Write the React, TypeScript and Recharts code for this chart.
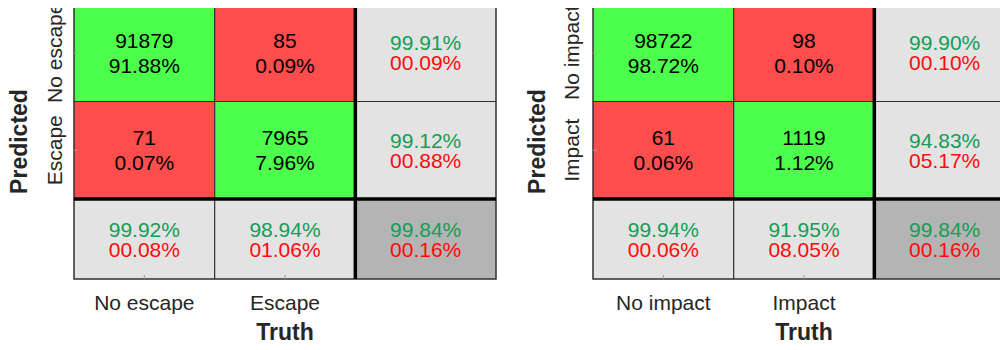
import React from 'react';
import { ScatterChart, Scatter, XAxis, YAxis, ReferenceArea, ReferenceLine, Label } from 'recharts';

const FONT = '"Liberation Sans", Arial, Helvetica, sans-serif';

// escape classifier
const escapeLabels = ['No escape', 'Escape'];
const escapeCounts = [[91879, 85], [71, 7965]];
const escapeShares = [['91.88%', '0.09%'], ['0.07%', '7.96%']];
const escapeRowRates = [['99.91%', '00.09%'], ['99.12%', '00.88%']];
const escapeColRates = [['99.92%', '00.08%'], ['98.94%', '01.06%']];
const escapeOverall = ['99.84%', '00.16%'];

// impact classifier
const impactLabels = ['No impact', 'Impact'];
const impactCounts = [[98722, 98], [61, 1119]];
const impactShares = [['98.72%', '0.10%'], ['0.06%', '1.12%']];
const impactRowRates = [['99.90%', '00.10%'], ['94.83%', '05.17%']];
const impactColRates = [['99.94%', '00.06%'], ['91.95%', '08.05%']];
const impactOverall = ['99.84%', '00.16%'];

// the summary row is drawn a bit shorter than the class rows
const SUMMARY_H = 0.82;
const Y_MAX = 2 + SUMMARY_H;

const FILL: Record<string, string> = {
  hit: '#4dff4d',
  miss: '#ff4d4d',
  rate: '#e3e3e3',
  total: '#b4b4b4',
};

type Cell = { r: number; c: number; x: number; y: number; kind: string; lines: string[] };

function buildCells(counts: number[][], shares: string[][], rowRates: string[][], colRates: string[][], overall: string[]) {
  const cells: Cell[] = [];
  counts.forEach((row, r) =>
    row.forEach((n, c) =>
      cells.push({ r, c, x: c + 0.5, y: r + 0.5, kind: r === c ? 'hit' : 'miss', lines: [String(n), shares[r][c]] })
    )
  );
  rowRates.forEach((p, r) => cells.push({ r, c: 2, x: 2.5, y: r + 0.5, kind: 'rate', lines: p }));
  colRates.forEach((p, c) => cells.push({ r: 2, c, x: c + 0.5, y: 2 + SUMMARY_H / 2, kind: 'rate', lines: p }));
  cells.push({ r: 2, c: 2, x: 2.5, y: 2 + SUMMARY_H / 2, kind: 'total', lines: overall });
  return cells;
}

const rowTop = (r: number) => r;
const rowBottom = (r: number) => (r < 2 ? r + 1 : Y_MAX);

const CellText = (props: any) => {
  const { cx, cy, payload } = props;
  if (cx == null || cy == null) return null;
  const isCount = payload.kind === 'hit' || payload.kind === 'miss';
  if (isCount) {
    return (
      <g fontFamily={FONT} fontSize={21} fill="#000" textAnchor="middle">
        <text x={cx} y={cy - 5}>{payload.lines[0]}</text>
        <text x={cx} y={cy + 20}>{payload.lines[1]}</text>
      </g>
    );
  }
  return (
    <g fontFamily={FONT} fontSize={21} textAnchor="middle">
      <text x={cx} y={cy - 2.5} fill="#129e55">{payload.lines[0]}</text>
      <text x={cx} y={cy + 17.5} fill="#ff0a0a">{payload.lines[1]}</text>
    </g>
  );
};

function Panel({ left, labels, cells, yLabelGap, predictedX }: { left: number; labels: string[]; cells: Cell[]; yLabelGap: number; predictedX: number }) {
  const XTick = (p: any) => (
    <g>
      <line x1={p.x} x2={p.x} y1={p.y} y2={p.y - 4} stroke="#9a9a9a" />
      <text x={p.x} y={p.y + 31} textAnchor="middle" fontFamily={FONT} fontSize={21} fill="#262626">
        {labels[p.index]}
      </text>
    </g>
  );
  const YTick = (p: any) => (
    <g>
      <line x1={p.x} x2={p.x + 4} y1={p.y} y2={p.y} stroke="#9a9a9a" />
      <text
        x={p.x - yLabelGap}
        y={p.y}
        transform={`rotate(-90 ${p.x - yLabelGap} ${p.y})`}
        textAnchor="middle"
        fontFamily={FONT}
        fontSize={21}
        fill="#262626"
      >
        {labels[p.index]}
      </text>
    </g>
  );

  return (
    <div style={{ position: 'absolute', left, top: 0 }}>
      <ScatterChart width={500} height={350} margin={{ top: 4, right: 4, bottom: 0, left: 0 }}>
        <XAxis
          type="number"
          dataKey="x"
          domain={[0, 3]}
          ticks={[0.5, 1.5]}
          interval={0}
          height={71}
          axisLine={false}
          tickLine={false}
          tickSize={0}
          tickMargin={0}
          tick={<XTick />}
        >
          <Label
            content={(lp: any) => {
              const vb = lp.viewBox;
              return (
                <text x={vb.x + vb.width / 2} y={vb.y + 61} textAnchor="middle" fontFamily={FONT} fontSize={23} fontWeight="bold" fill="#262626">
                  Truth
                </text>
              );
            }}
          />
        </XAxis>
        <YAxis
          type="number"
          dataKey="y"
          domain={[0, Y_MAX]}
          reversed
          ticks={[0.5, 1.5]}
          interval={0}
          width={74}
          axisLine={false}
          tickLine={false}
          tickSize={0}
          tickMargin={0}
          tick={<YTick />}
        >
          <Label
            content={(lp: any) => {
              const vb = lp.viewBox;
              const cy = vb.y + vb.height / 2;
              return (
                <text
                  x={predictedX}
                  y={cy}
                  transform={`rotate(-90 ${predictedX} ${cy})`}
                  textAnchor="middle"
                  fontFamily={FONT}
                  fontSize={23}
                  fontWeight="bold"
                  fill="#262626"
                >
                  Predicted
                </text>
              );
            }}
          />
        </YAxis>

        {cells.map((cell) => (
          <ReferenceArea
            key={`${cell.r}-${cell.c}`}
            x1={cell.c}
            x2={cell.c + 1}
            y1={rowTop(cell.r)}
            y2={rowBottom(cell.r)}
            fill={FILL[cell.kind]}
            fillOpacity={1}
            stroke="none"
          />
        ))}

        <ReferenceLine x={1} stroke="#303030" strokeWidth={1.2} />
        <ReferenceLine y={1} stroke="#303030" strokeWidth={1.2} />
        <ReferenceLine x={2} stroke="#000" strokeWidth={3.5} />
        <ReferenceLine y={2} stroke="#000" strokeWidth={3.5} />
        <ReferenceArea x1={0} x2={3} y1={0} y2={Y_MAX} fill="none" stroke="#303030" strokeWidth={1.5} />

        <Scatter data={cells} shape={<CellText />} isAnimationActive={false} />
      </ScatterChart>
    </div>
  );
}

export default function App() {
  const escapeCells = buildCells(escapeCounts, escapeShares, escapeRowRates, escapeColRates, escapeOverall);
  const impactCells = buildCells(impactCounts, impactShares, impactRowRates, impactColRates, impactOverall);
  return (
    <div style={{ position: 'relative', margin: -8, width: 1008, height: 350, overflow: 'hidden', background: '#fff' }}>
      <Panel left={0} labels={escapeLabels} cells={escapeCells} yLabelGap={12} predictedX={27} />
      <Panel left={519} labels={impactLabels} cells={impactCells} yLabelGap={14} predictedX={26} />
    </div>
  );
}
